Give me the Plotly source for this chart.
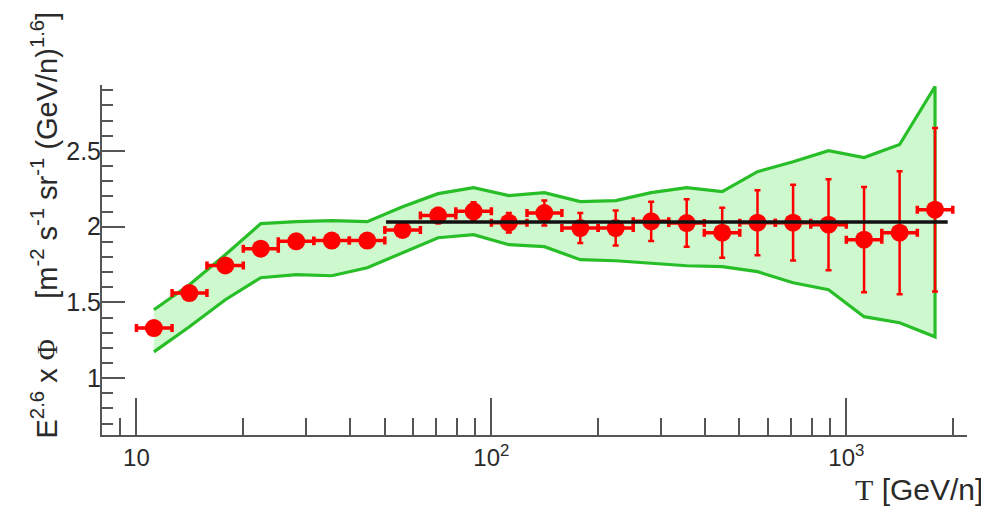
import plotly.graph_objects as go

# ---- data ----
x_center = [11.2, 14.1, 17.8, 22.4, 28.2, 35.5, 44.7, 56.2, 70.8, 89.1, 112, 141,
            178, 224, 282, 355, 447, 562, 708, 891, 1122, 1413, 1778]
x_low = [10.0, 12.6, 15.8, 20.0, 25.1, 31.6, 39.8, 50.1, 63.1, 79.4, 100, 126,
         158, 200, 251, 316, 398, 501, 631, 794, 1000, 1259, 1585]
x_high = [12.6, 15.8, 20.0, 25.1, 31.6, 39.8, 50.1, 63.1, 79.4, 100, 126, 158,
          200, 251, 316, 398, 501, 631, 794, 1000, 1259, 1585, 1995]
flux = [1.331, 1.562, 1.744, 1.855, 1.903, 1.908, 1.908, 1.978, 2.073, 2.101, 2.026, 2.090,
        1.991, 1.991, 2.035, 2.024, 1.960, 2.026, 2.026, 2.013, 1.914, 1.960, 2.112]
flux_err = [0.03, 0.03, 0.035, 0.035, 0.035, 0.035, 0.04, 0.045, 0.05, 0.06, 0.065, 0.083,
            0.099, 0.115, 0.13, 0.157, 0.165, 0.215, 0.25, 0.30, 0.347, 0.406, 0.54]
band_upper = [1.452, 1.617, 1.815, 2.020, 2.033, 2.040, 2.033, 2.132, 2.218, 2.258, 2.205, 2.225,
              2.165, 2.172, 2.225, 2.258, 2.231, 2.363, 2.429, 2.502, 2.456, 2.542, 2.925]
band_lower = [1.174, 1.339, 1.518, 1.663, 1.683, 1.676, 1.729, 1.828, 1.927, 1.947, 1.881, 1.868,
              1.782, 1.775, 1.756, 1.742, 1.736, 1.703, 1.630, 1.584, 1.406, 1.366, 1.273]
fit_x = [50.5, 1930]
fit_y = [2.03, 2.03]

x_major_vals = [10, 100, 1000]
x_major_text = ["10", "10<sup>2</sup>", "10<sup>3</sup>"]
x_minor_vals = [9, 20, 30, 40, 50, 60, 70, 80, 90, 200, 300, 400, 500, 600, 700, 800, 900, 2000]

# ---- styles ----
GREEN = "rgb(40,190,40)"
FILL = "rgb(206,248,206)"
RED = "rgb(255,0,0)"
AXIS = "#555555"
TXT = "#2a2a2a"

fig = go.Figure()

# band fill (no outline)
fig.add_trace(go.Scatter(
    x=x_center + x_center[::-1], y=band_upper + band_lower[::-1],
    mode="lines", fill="toself", fillcolor=FILL, line=dict(width=0),
    hoverinfo="skip", showlegend=False))
# band outline (upper, right edge, lower) - open on the left
fig.add_trace(go.Scatter(
    x=x_center + x_center[::-1], y=band_upper + band_lower[::-1],
    mode="lines", line=dict(color=GREEN, width=3.2),
    hoverinfo="skip", showlegend=False))

# data points
err_plus = [h - c for h, c in zip(x_high, x_center)]
err_minus = [c - l for c, l in zip(x_center, x_low)]
fig.add_trace(go.Scatter(
    x=x_center, y=flux, mode="markers",
    marker=dict(color=RED, size=18, line=dict(width=0)),
    error_x=dict(type="data", symmetric=False, array=err_plus, arrayminus=err_minus,
                 color=RED, thickness=3.5, width=4),
    error_y=dict(type="data", array=flux_err, color=RED, thickness=2.5, width=3),
    showlegend=False))

# fit line
fig.add_trace(go.Scatter(
    x=fit_x, y=fit_y, mode="lines", line=dict(color="#111111", width=3.5),
    showlegend=False))

# page body adds an 8px offset; figure sized so the visible window matches
fig.update_layout(
    width=981, height=501,
    margin=dict(l=94, r=22, t=77, b=74),
    paper_bgcolor="white", plot_bgcolor="white",
    font=dict(family="Liberation Sans, Arial, sans-serif", color=TXT),
    xaxis=dict(
        type="log", range=[0.903, 3.34],
        showline=True, linecolor=AXIS, linewidth=2, mirror=False,
        showgrid=False, zeroline=False,
        ticks="inside", ticklen=37, tickwidth=2, tickcolor=AXIS,
        tickmode="array", tickvals=x_major_vals, ticktext=x_major_text,
        tickfont=dict(size=24, color=TXT), ticklabelstandoff=0,
        minor=dict(tickmode="array", tickvals=x_minor_vals, ticks="inside",
                   ticklen=17, tickwidth=2, tickcolor=AXIS, showgrid=False),
    ),
    yaxis=dict(
        range=[0.625, 2.935],
        showline=True, linecolor=AXIS, linewidth=2, mirror=False,
        showgrid=False, zeroline=False,
        ticks="inside", ticklen=23, tickwidth=2, tickcolor=AXIS,
        tick0=0, dtick=0.5,
        tickfont=dict(size=25, color=TXT), ticklabelstandoff=-6,
        minor=dict(dtick=0.1, tick0=0, ticks="inside", ticklen=11,
                   tickwidth=2, tickcolor=AXIS, showgrid=False),
    ),
)

# y-axis title (rotated)
fig.add_annotation(
    xref="paper", yref="paper", x=-0.0665, y=0.60,
    xanchor="center", yanchor="middle", textangle=-90, showarrow=False,
    text=("E<sup>2.6</sup> x <span style='font-family:Liberation Serif'>Φ</span>"
          "&nbsp;&nbsp;&nbsp;&nbsp;&nbsp;[m<sup>-2</sup> s<sup>-1</sup> sr<sup>-1</sup> (GeV/n)<sup>1.6</sup>]"),
    font=dict(size=29, color=TXT))

# x-axis title
fig.add_annotation(
    xref="paper", yref="paper", x=1.021, y=-0.155,
    xanchor="right", yanchor="middle", showarrow=False,
    text="<span style='font-family:Liberation Serif'>T</span> [GeV/n]",
    font=dict(size=30, color=TXT))

fig.write_html("out.html")
